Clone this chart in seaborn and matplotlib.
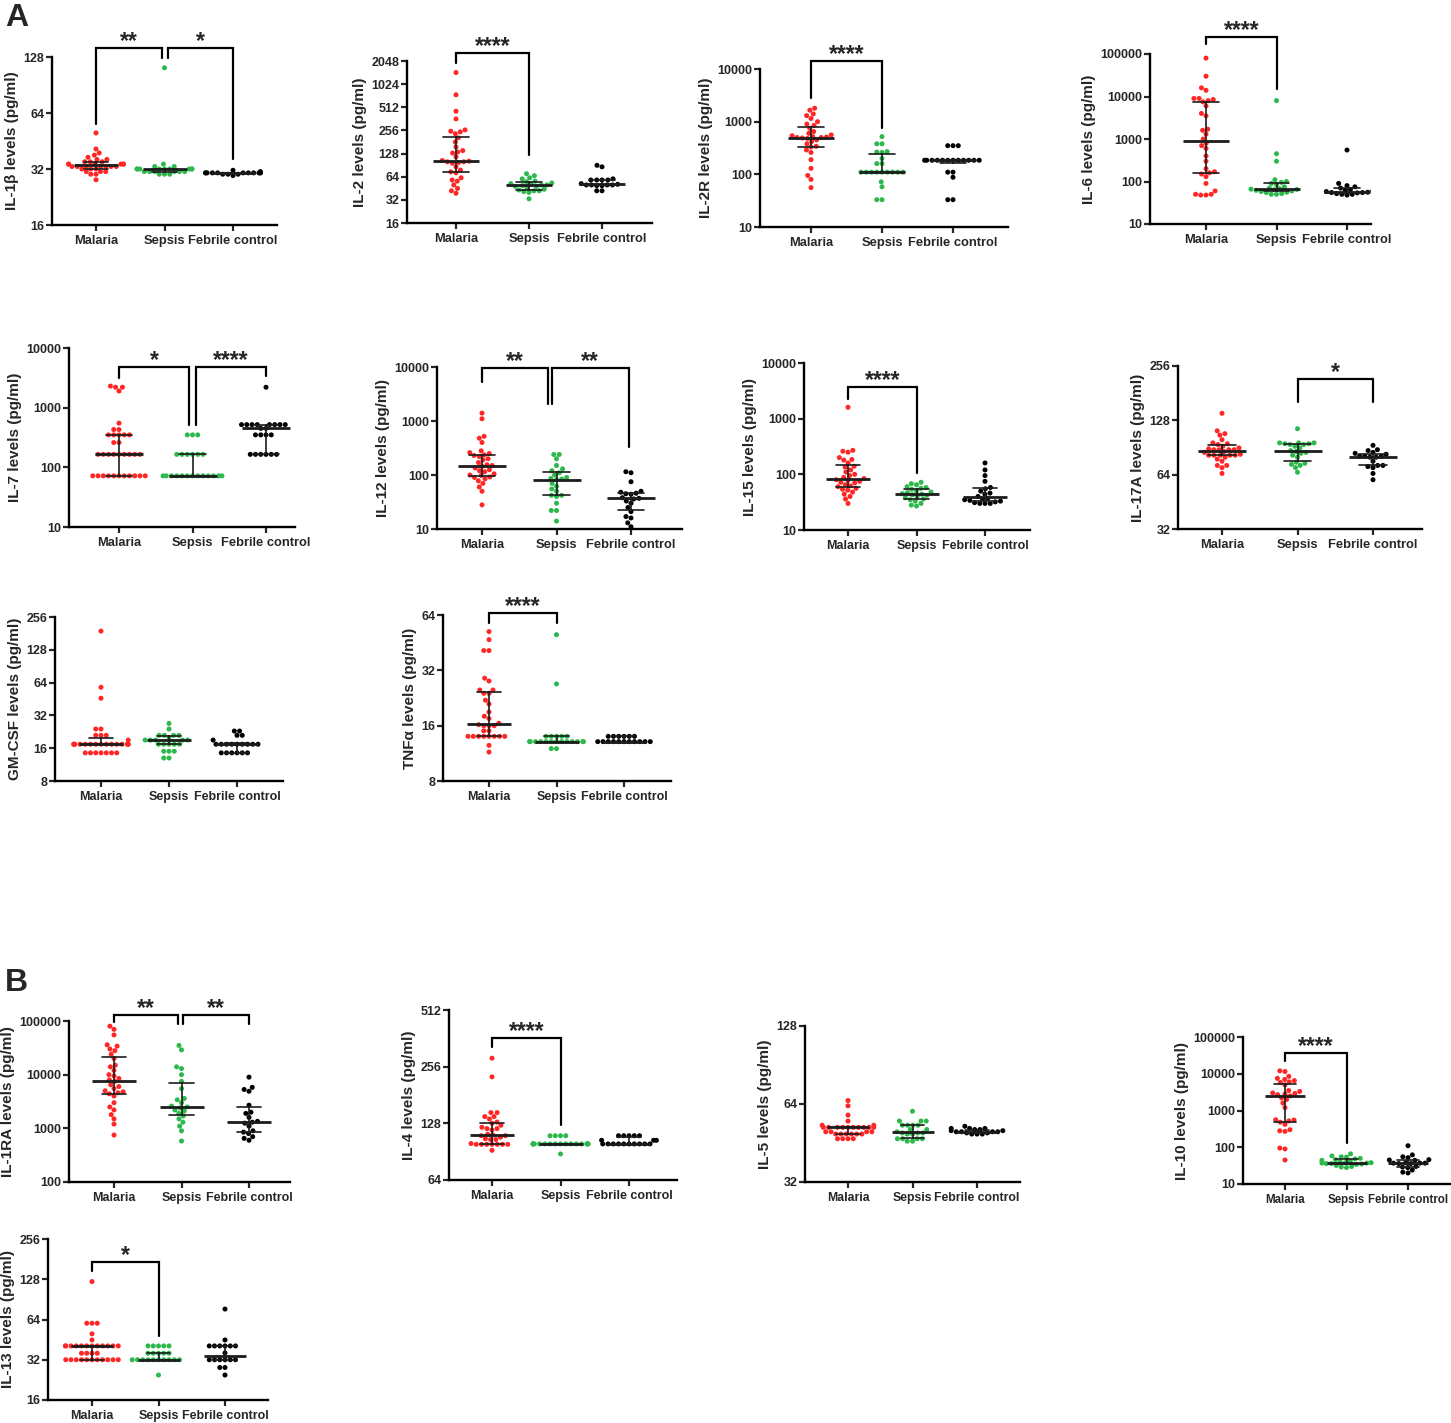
import numpy as np
import pandas as pd
import matplotlib
matplotlib.use("Agg")
import matplotlib.pyplot as plt
from matplotlib.ticker import NullLocator
import seaborn as sns

groups = ["Malaria", "Sepsis", "Febrile control"]
colors = ["#FF2626", "#2DB84B", "#000000"]

# ---------------- data (pg/ml) ----------------
il1b_mal = [50, 41, 39, 38, 37, 36, 36, 35, 35, 35, 34, 34, 34, 34, 34, 34,
            33, 33, 33, 33, 33, 33, 33, 32, 32, 32, 31, 31, 31, 30, 30, 28]
il1b_sep = [112, 34, 33, 33, 32, 32, 32, 32, 32, 32, 32, 32, 32, 31, 31, 31,
            31, 31, 31, 30, 30, 30]
il1b_feb = [31.5, 31, 30.5, 30.5, 30.5, 30.5, 30.5, 30.5, 30.5, 30.5, 30.5,
            30.5, 30.5, 30, 30, 30, 29.5]

il2_mal = [1450, 745, 455, 362, 260, 250, 245, 232, 205, 181, 156, 140, 134,
           130, 116, 104, 102, 100, 100, 98, 96, 86, 78, 74, 72, 62, 58, 56,
           50, 45, 42, 39]
il2_sep = [70, 66, 62, 60, 56, 55, 53, 52, 51, 50, 50, 49, 48, 48, 46, 44, 43,
           42, 42, 41, 40, 33]
il2_feb = [90, 86, 60, 58, 58, 58, 58, 52, 51, 50, 50, 50, 50, 49, 49, 42, 42]

il2r_mal = [1800, 1650, 1400, 1300, 1150, 1000, 900, 850, 750, 650, 600, 560,
            540, 520, 510, 500, 500, 490, 480, 450, 420, 380, 340, 330, 290,
            260, 190, 130, 95, 80, 56]
il2r_sep = [520, 380, 380, 270, 265, 260, 200, 160, 160, 110, 110, 110, 110,
            110, 110, 110, 110, 110, 72, 58, 33, 33]
il2r_feb = [350, 350, 350] + [185] * 12 + [110, 110, 88, 33, 33]

il6_mal = [80000, 30000, 16000, 14000, 9000, 9000, 8500, 8000, 7500, 6000,
           4000, 3500, 1700, 1600, 1300, 1000, 800, 700, 600, 400, 300, 200,
           170, 160, 150, 130, 90, 60, 50, 50, 48, 48]
il6_sep = [8000, 450, 300, 110, 100, 95, 90, 85, 75, 70, 68, 66, 65, 64, 62,
           60, 58, 56, 55, 52, 50, 50]
il6_feb = [550, 90, 80, 75, 70, 65, 62, 60, 58, 56, 55, 55, 54, 52, 50, 50, 48]

il7_mal = [2300, 2200, 2200, 1900, 550, 430, 430] + [350] * 5 + [260, 260] \
    + [165] * 9 + [72] * 11
il7_sep = [350] * 3 + [165] * 6 + [72] * 13
il7_feb = [2200] + [520] * 8 + [450, 450] + [350] * 4 + [165] * 6

il12_mal = [1400, 1100, 520, 480, 400, 280, 260, 250, 235, 230, 220, 200, 190,
            170, 155, 150, 145, 135, 125, 120, 115, 105, 100, 98, 92, 90, 85,
            78, 70, 60, 50, 28]
il12_sep = [240, 240, 200, 150, 130, 120, 110, 100, 90, 86, 84, 82, 70, 62, 55,
            50, 42, 42, 40, 30, 22, 22, 14]
il12_feb = [115, 110, 75, 50, 48, 46, 45, 44, 38, 37, 36, 33, 30, 25, 21, 17,
            16, 13, 11]

il15_mal = [1600, 270, 260, 250, 200, 185, 180, 160, 140, 135, 120, 110, 100,
            95, 88, 84, 80, 78, 75, 72, 70, 65, 62, 60, 56, 54, 52, 48, 44, 40,
            36, 30]
il15_sep = [72, 68, 65, 60, 58, 56, 54, 50, 48, 47, 45, 44, 43, 42, 40, 38, 36,
            35, 33, 30, 28, 27]
il15_feb = [160, 120, 95, 75, 58, 55, 50, 46, 44, 40, 37, 36, 35, 34, 33, 32,
            31, 30, 30, 30]

il17a_mal = [140, 112, 108, 106, 100, 96, 95, 94, 92, 90, 89, 88, 88, 88, 88,
             86, 85, 83, 82, 82, 82, 82, 82, 80, 78, 76, 72, 72, 70, 65]
il17a_sep = [115, 96, 96, 96, 95, 95, 94, 94, 92, 90, 87, 86, 85, 84, 82, 80,
             75, 74, 73, 72, 70, 66]
il17a_feb = [93, 88, 87, 85, 84, 83, 81, 81, 81, 80, 80, 76, 72, 72, 71, 70,
             65, 60]

gmcsf_mal = [190, 58, 46, 24, 24, 21, 21, 21, 19] + [17.4] * 15 + [14.5] * 7
gmcsf_sep = [27, 24, 21, 21, 21, 21, 20, 19, 19, 19, 19, 19] + [17.4] * 5 \
    + [15, 15, 15, 13, 13]
gmcsf_feb = [23, 23, 21, 21, 19] + [17.4] * 9 + [14.5] * 6

tnfa_mal = [52, 47, 41, 41, 29, 28, 25, 25, 24, 24, 22, 21, 19, 18, 17.5,
            16.5, 16.2, 16, 16, 16, 15, 15, 14, 14, 14, 14, 14, 14, 14, 14,
            12.5, 11.5]
tnfa_sep = [50, 27] + [14] * 5 + [13.1] * 13 + [12, 12]
tnfa_feb = [14] * 6 + [13.1] * 11

il1ra_mal = [80000, 70000, 55000, 36000, 34000, 30000, 28000, 24000, 20000,
             15000, 14000, 12000, 10000, 9500, 8500, 8000, 7500, 6500, 6000,
             5500, 5000, 4800, 4600, 4400, 4000, 3000, 2500, 2200, 1800, 1500,
             1200, 750]
il1ra_sep = [35000, 29000, 14000, 13000, 10000, 7500, 5500, 3600, 3400, 3000,
             2600, 2500, 2400, 2200, 2100, 1900, 1700, 1500, 1300, 1100, 900,
             580]
il1ra_feb = [9000, 5800, 5300, 4900, 2700, 2000, 1900, 1600, 1350, 1300, 1250,
             1100, 900, 850, 800, 700, 650, 600]

il4_mal = [284, 226, 146, 146, 139, 139, 135, 130, 128, 125, 122, 120, 120,
           118, 112, 111, 110, 110, 108, 106, 105, 105, 100] + [99] * 7 + [92]
il4_sep = [110] * 4 + [99.5] * 17 + [88]
il4_feb = [110] * 5 + [104] * 3 + [99.5] * 10

il5_mal = [66, 63, 58, 55, 53, 53] + [52] * 10 + [50] * 4 + [49] * 6 + [47] * 4
il5_sep = [60, 55, 55, 55, 53, 53, 53, 53, 51, 51, 50, 49.5, 49.5, 49.5, 49,
           49, 47, 47, 47, 47, 46, 46]
il5_feb = [52.5, 51.5, 51.5, 51.5, 51, 51, 50.5, 50.5, 50, 50, 50, 50, 49.5,
           49.5, 49, 49, 49]

il10_mal = [12000, 11500, 8500, 7500, 7000, 6500, 6000, 5800, 5000, 3500, 3300,
            3000, 2900, 2800, 2700, 2500, 2200, 2000, 1600, 1200, 560, 550,
            520, 480, 420, 300, 280, 270, 95, 90, 45]
il10_sep = [66, 58, 55, 54, 50, 48, 46, 44, 42, 40, 38, 38, 37, 37, 36, 36, 35,
            34, 32, 30, 29, 28]
il10_feb = [110, 62, 55, 52, 46, 45, 44, 38, 37, 37, 37, 36, 36, 30, 29, 28,
            24, 21, 20]

il13_mal = [123, 60, 60, 60, 50, 45] + [40.6] * 12 + [35.8] * 4 + [32] * 11
il13_sep = [40.6] * 5 + [35.8] * 5 + [32] * 10 + [24.6]
il13_feb = [76.6, 45] + [40.6] * 6 + [36] + [32] * 6 + [28, 28, 24.6]

# ---------------- figure ----------------
W, H = 1451, 1423
sns.set_style("ticks")
plt.rcParams["font.family"] = ["Liberation Sans", "DejaVu Sans"]
plt.rcParams["font.weight"] = "bold"
fig = plt.figure(figsize=(W / 100, H / 100), dpi=100)


def draw_panel(box, cats, mal, sep, feb, ylabel, base, ticks, brackets,
               xfs=9.3):
    left, right, top, bottom = box
    ax = fig.add_axes([left / W, 1 - bottom / H, (right - left) / W,
                       (bottom - top) / H])
    df = pd.DataFrame({
        "group": np.repeat(groups, [len(mal), len(sep), len(feb)]),
        "value": np.concatenate([mal, sep, feb]).astype(float),
    })
    d = (cats[1] - cats[0]) / 2
    sns.swarmplot(data=df, x="group", y="value", hue="group", order=groups,
                  hue_order=groups, palette=colors, size=3.6, legend=False,
                  log_scale=(False, base), warn_thresh=1, ax=ax, zorder=2)
    sns.pointplot(data=df, x="group", y="value", order=groups,
                  estimator="median", errorbar=("pi", 50), color="#1c1c1c",
                  marker="_", markersize=0.64 * d * 0.72, markeredgewidth=2,
                  linestyle="none", capsize=0.36, err_kws={"linewidth": 1.2},
                  log_scale=(False, base), ax=ax, zorder=3)
    ax.set_xlim((left - cats[0]) / d, (right - cats[0]) / d)
    ax.set_ylim(ticks[0], ticks[-1])
    ax.set_yticks(ticks)
    ax.set_yticklabels([str(t) for t in ticks])
    ax.yaxis.set_minor_locator(NullLocator())
    ax.set_xticks(range(3))
    ax.set_xticklabels(groups)
    ax.set_xlabel("")
    ax.set_ylabel(ylabel, fontsize=11, fontweight="bold", labelpad=3)
    ax.tick_params(axis="y", labelsize=9, width=1.6, length=4, pad=1.5)
    ax.tick_params(axis="x", labelsize=xfs, width=1.6, length=4, pad=3)
    for lab in ax.get_xticklabels() + ax.get_yticklabels():
        lab.set_fontweight("bold")
    for s in ["left", "bottom"]:
        ax.spines[s].set_linewidth(1.7)
        ax.spines[s].set_color("black")
    sns.despine(ax=ax)
    for x1, x2, ytop, yl, yr, txt in brackets:
        ax.plot([x1, x1, x2, x2], [yl, ytop, ytop, yr], color="black", lw=1.6,
                clip_on=False, solid_joinstyle="miter")
        ax.annotate(txt, ((x1 + x2) / 2, ytop), xytext=(0, 0),
                    textcoords="offset points", ha="center", va="baseline",
                    fontsize=16.5, fontweight="bold", annotation_clip=False)
    return ax


t2 = lambda a, b: [2 ** k for k in range(a, b + 1)]
t10 = lambda a, b: [10 ** k for k in range(a, b + 1)]

draw_panel((52, 277, 57, 225), (96, 233), il1b_mal, il1b_sep, il1b_feb,
           "IL-1β levels (pg/ml)", 2, t2(4, 7),
           [(0, 0.966, 143, 56, 126, "**"), (1.044, 2, 143, 126, 36, "*")])
draw_panel((407, 652, 61, 223), (456, 602), il2_mal, il2_sep, il2_feb,
           "IL-2 levels (pg/ml)", 2, t2(4, 11),
           [(0, 1, 2570, 1950, 122, "****")])
draw_panel((760, 1008, 69, 227), (811, 953), il2r_mal, il2r_sep, il2r_feb,
           "IL-2R levels (pg/ml)", 10, t10(1, 4),
           [(0, 1, 14200, 2850, 750, "****")])
draw_panel((1150, 1371, 54, 224), (1206, 1347), il6_mal, il6_sep, il6_feb,
           "IL-6 levels (pg/ml)", 10, t10(1, 5),
           [(0, 1, 257000, 170000, 14700, "****")])

draw_panel((69, 295, 348, 527), (119, 266), il7_mal, il7_sep, il7_feb,
           "IL-7 levels (pg/ml)", 10, t10(1, 4),
           [(0, 0.953, 4870, 3160, 517, "*"), (1.047, 2, 4870, 517, 3400, "****")])
draw_panel((437, 682, 367, 529), (482, 631), il12_mal, il12_sep, il12_feb,
           "IL-12 levels (pg/ml)", 10, t10(1, 4),
           [(0, 0.88, 9440, 5300, 2070, "**"), (0.935, 1.97, 9440, 2070, 335, "**")])
draw_panel((804, 1030, 363, 530), (848, 985), il15_mal, il15_sep, il15_feb,
           "IL-15 levels (pg/ml)", 10, t10(1, 4),
           [(0, 1, 3640, 2300, 106, "****")], xfs=9)
draw_panel((1178, 1422, 366, 529), (1222, 1373), il17a_mal, il17a_sep,
           il17a_feb, "IL-17A levels (pg/ml)", 2, t2(5, 8),
           [(1, 2, 217, 162, 162, "*")])

draw_panel((55, 283, 617, 781), (101, 237), gmcsf_mal, gmcsf_sep, gmcsf_feb,
           "GM-CSF levels (pg/ml)", 2, t2(3, 8), [], xfs=9)
draw_panel((443, 671, 615, 781), (489, 624), tnfa_mal, tnfa_sep, tnfa_feb,
           "TNFα levels (pg/ml)", 2, t2(3, 6),
           [(0, 1, 66, 58, 58, "****")], xfs=9)

draw_panel((69, 290, 1021, 1182), (114, 249), il1ra_mal, il1ra_sep, il1ra_feb,
           "IL-1RA levels (pg/ml)", 10, t10(2, 5),
           [(0, 0.942, 132000, 96000, 88000, "**"),
            (1.024, 2, 132000, 88000, 88000, "**")], xfs=9)
draw_panel((449, 677, 1010, 1180), (492, 629), il4_mal, il4_sep, il4_feb,
           "IL-4 levels (pg/ml)", 2, t2(6, 9),
           [(0, 1, 365, 324, 125, "****")], xfs=9)
draw_panel((805, 1020, 1026, 1182), (848, 977), il5_mal, il5_sep, il5_feb,
           "IL-5 levels (pg/ml)", 2, t2(5, 7), [], xfs=8.8)
draw_panel((1243, 1451, 1037, 1184), (1285, 1408), il10_mal, il10_sep,
           il10_feb, "IL-10 levels (pg/ml)", 10, t10(1, 5),
           [(0, 1, 36500, 21600, 128, "****")], xfs=8.3)
draw_panel((48, 268, 1239, 1400), (92, 225), il13_mal, il13_sep, il13_feb,
           "IL-13 levels (pg/ml)", 2, t2(4, 8),
           [(0, 1, 172, 147, 48, "*")], xfs=9)

fig.text(5 / W, 1 - 3 / H, "A", fontsize=23, fontweight="bold", va="top")
fig.text(5 / W, 1 - 968 / H, "B", fontsize=23, fontweight="bold", va="top")

fig.savefig("out.png", dpi=100)
